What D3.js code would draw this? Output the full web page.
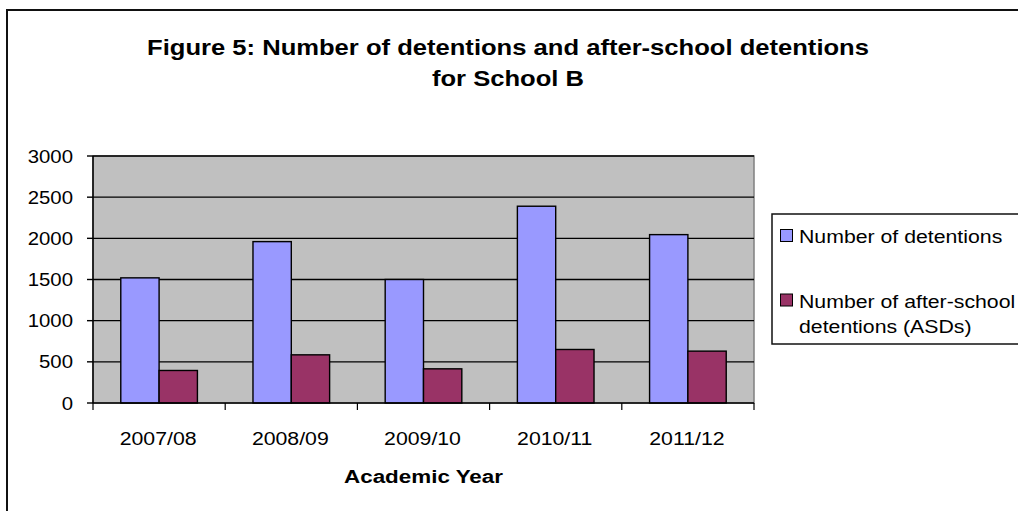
<!DOCTYPE html>
<html>
<head>
<meta charset="utf-8">
<script src="https://cdn.jsdelivr.net/npm/d3@7"></script>
<style>
  html, body { margin: 0; padding: 0; background: #fff; }
  svg { display: block; }
  text { font-family: "Liberation Sans", Arial, sans-serif; fill: #000; }
</style>
</head>
<body>
<svg id="chart" width="1018" height="511"></svg>
<script>
const categories = ["2007/08", "2008/09", "2009/10", "2010/11", "2011/12"];
const seriesNames = ["Number of detentions", "Number of after-school detentions (ASDs)"];
const detentions = [1520, 1960, 1500, 2390, 2045];
const afterSchool = [395, 585, 415, 650, 630];
const yTicks = [0, 500, 1000, 1500, 2000, 2500, 3000];
const colors = ["#9999FF", "#993366"];
const titleLines = ["Figure 5: Number of detentions and after-school detentions", "for School B"];
const xTitle = "Academic Year";

(function () {
const svg = d3.select("#chart");

function stretchedText(g, x, y, str, opts) {
  const sx = opts.sx || 1.13;
  return g.append("text")
    .attr("transform", `translate(${x},${y}) scale(${sx},1)`)
    .attr("text-anchor", opts.anchor || "start")
    .style("font-size", (opts.size || 18.5) + "px")
    .style("font-weight", opts.bold ? "bold" : "normal")
    .text(str);
}

// outer chart border
svg.append("rect").attr("x", 7).attr("y", 10).attr("width", 1030).attr("height", 520)
  .attr("fill", "#fff").attr("stroke", "#111").attr("stroke-width", 2);

// title
stretchedText(svg, 508, 55, titleLines[0], {anchor: "middle", size: 21.5, bold: true, sx: 1.19});
stretchedText(svg, 508, 86, titleLines[1], {anchor: "middle", size: 21.5, bold: true, sx: 1.19});

const pLeft = 93, pRight = 754, pTop = 156, pBottom = 403;
const x = d3.scaleBand().domain(categories).range([pLeft, pRight]).paddingInner(0).paddingOuter(0);
const y = d3.scaleLinear().domain([0, 3000]).range([pBottom, pTop]);
const bw = x.bandwidth();
const barW = bw / 3.45;
const xSub = d3.scaleBand().domain([0, 1]).range([(bw - 2 * barW) / 2, (bw + 2 * barW) / 2]);

// plot area
svg.append("rect").attr("x", pLeft).attr("y", pTop).attr("width", pRight - pLeft).attr("height", pBottom - pTop)
  .attr("fill", "#C0C0C0").attr("stroke", "#808080").attr("stroke-width", 1.5);

// gridlines
svg.append("g").selectAll("line").data(yTicks.filter(d => d > 0)).join("line")
  .attr("x1", pLeft).attr("x2", pRight)
  .attr("y1", d => y(d)).attr("y2", d => y(d))
  .attr("stroke", "#000").attr("stroke-width", 1.4);

// bars
const data = categories.map((c, i) => ({c, vals: [detentions[i], afterSchool[i]]}));
const groups = svg.append("g").selectAll("g").data(data).join("g")
  .attr("transform", d => `translate(${x(d.c)},0)`);
groups.selectAll("rect").data(d => d.vals.map((v, k) => ({v, k}))).join("rect")
  .attr("x", d => xSub(d.k)).attr("width", xSub.bandwidth())
  .attr("y", d => y(d.v)).attr("height", d => y(0) - y(d.v))
  .attr("fill", d => colors[d.k]).attr("stroke", "#000").attr("stroke-width", 1.4);

// y axis
const yAxisG = svg.append("g");
yAxisG.append("line").attr("x1", pLeft).attr("x2", pLeft).attr("y1", pTop).attr("y2", pBottom)
  .attr("stroke", "#000").attr("stroke-width", 1.5);
yAxisG.selectAll("line.tick").data(yTicks).join("line").attr("class", "tick")
  .attr("x1", pLeft - 6).attr("x2", pLeft).attr("y1", d => y(d)).attr("y2", d => y(d))
  .attr("stroke", "#000").attr("stroke-width", 1.4);
yTicks.forEach(t => stretchedText(yAxisG, 73, y(t) + 6.5, String(t), {anchor: "end", sx: 1.1}));

// x axis
const xAxisG = svg.append("g");
xAxisG.append("line").attr("x1", pLeft).attr("x2", pRight).attr("y1", pBottom).attr("y2", pBottom)
  .attr("stroke", "#000").attr("stroke-width", 1.5);
const bounds = categories.map(c => x(c)).concat([pRight]);
xAxisG.selectAll("line.tick").data(bounds).join("line").attr("class", "tick")
  .attr("x1", d => d).attr("x2", d => d).attr("y1", pBottom).attr("y2", pBottom + 7)
  .attr("stroke", "#000").attr("stroke-width", 1.2);
categories.forEach(c => stretchedText(xAxisG, x(c) + bw / 2 - 1, 445, c, {anchor: "middle", sx: 1.15}));
stretchedText(svg, (pLeft + pRight) / 2, 483, xTitle, {anchor: "middle", size: 19, bold: true, sx: 1.18});

// legend
const lg = svg.append("g");
lg.append("rect").attr("x", 772).attr("y", 214).attr("width", 300).attr("height", 130)
  .attr("fill", "#fff").attr("stroke", "#111").attr("stroke-width", 1.5);
const legendItems = [
  {lines: ["Number of detentions"], y: 229.5},
  {lines: ["Number of after-school", "detentions (ASDs)"], y: 294}
];
legendItems.forEach((it, i) => {
  lg.append("rect").attr("x", 780.5).attr("y", it.y).attr("width", 12).attr("height", 12)
    .attr("fill", colors[i]).attr("stroke", "#000").attr("stroke-width", 1);
  it.lines.forEach((ln, j) => stretchedText(lg, 799, it.y + 13.5 + j * 25, ln, {anchor: "start", sx: 1.15}));
});
})();
</script>
</body>
</html>
